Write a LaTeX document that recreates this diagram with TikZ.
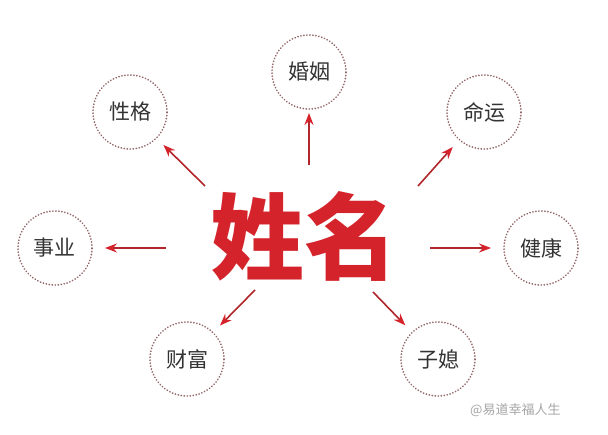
\documentclass[tikz,border=0pt]{standalone}
\usepackage{fontspec}
\newfontfamily\cjk{Noto Sans CJK SC}
\usetikzlibrary{arrows.meta}
\definecolor{dred}{HTML}{B0262A}
\definecolor{hred}{HTML}{D4232A}
\definecolor{dotred}{HTML}{926668}
\definecolor{txt}{HTML}{333333}
\tikzset{
  topic/.style={circle, minimum size=74pt, inner sep=0pt, draw=dotred, line width=1.9pt,
    dash pattern=on 0.01pt off 3pt, line cap=round, text=txt, font=\cjk\fontsize{21}{21}\selectfont},
  arr/.style={draw=dred, line width=1.6pt, shorten >=9pt,
    -{Stealth[length=12pt,width=9pt,color=hred]}},
}
\begin{document}
\begin{tikzpicture}[x=1pt,y=-1pt]
\useasboundingbox (0,0) rectangle (608,435);
\fill[white] (0,0) rectangle (608,435);
\node[topic] (hy) at (309,72) {婚姻};
\node[topic] (xg) at (130,112) {性格};
\node[topic] (my) at (484,112) {命运};
\node[topic] (sy) at (55,248) {事业};
\node[topic] (jk) at (541,248) {健康};
\node[topic] (cf) at (187,359) {财富};
\node[topic] (zx) at (438,359) {子媳};
\node[text=hred, font=\cjk\bfseries\fontsize{94}{94}\selectfont, inner sep=0pt] (xm) at (304,236) {姓名};
\coordinate (a1) at (309,165);
\coordinate (a2) at (205,186);
\coordinate (a3) at (418,186);
\coordinate (a4) at (166,248);
\coordinate (a5) at (430,248);
\coordinate (a6) at (255,290);
\coordinate (a7) at (373,292);
\draw[arr, shorten >=3pt] (a1) -- (hy);
\draw[arr] (a2) -- (xg);
\draw[arr] (a3) -- (my);
\draw[arr, shorten >=12pt] (a4) -- (sy);
\draw[arr, shorten >=12pt] (a5) -- (jk);
\draw[arr] (a6) -- (cf);
\draw[arr] (a7) -- (zx);
\node[text=black!35, font=\cjk\fontsize{13}{13}\selectfont, anchor=west, inner sep=0pt] (wm) at (470,410) {@易道幸福人生};
\end{tikzpicture}
\end{document}
